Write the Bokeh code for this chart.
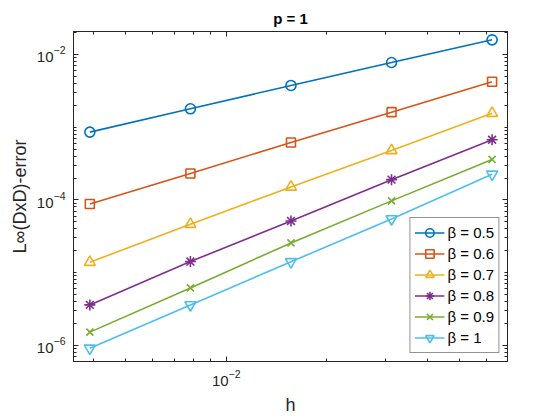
from bokeh.plotting import figure
from bokeh.models import LogAxis, FixedTicker, Legend, LegendItem, Range1d
from bokeh.embed import file_html
from bokeh.resources import INLINE

# ---- data ----
h = [1/256, 1/128, 1/64, 1/32, 1/16]
err_b05 = [8.55e-4, 1.79e-3, 3.75e-3, 7.76e-3, 1.59e-2]
err_b06 = [8.8e-5, 2.31e-4, 6.17e-4, 1.61e-3, 4.22e-3]
err_b07 = [1.39e-5, 4.64e-5, 1.51e-4, 4.79e-4, 1.56e-3]
err_b08 = [3.6e-6, 1.42e-5, 5.14e-5, 1.90e-4, 6.71e-4]
err_b09 = [1.52e-6, 6.17e-6, 2.56e-5, 9.7e-5, 3.6e-4]
err_b10 = [9.1e-7, 3.6e-6, 1.41e-5, 5.48e-5, 2.25e-4]
series = [err_b05, err_b06, err_b07, err_b08, err_b09, err_b10]
labels = ["β = 0.5", "β = 0.6", "β = 0.7", "β = 0.8", "β = 0.9", "β = 1"]

x_major = [1e-2]
x_minor = [0.004, 0.005, 0.006, 0.007, 0.008, 0.009, 0.02, 0.03, 0.04, 0.05, 0.06]
y_major = [1e-6, 1e-4, 1e-2]
y_minor = [k * 10.0 ** e for e in range(-7, -1) for k in range(1, 10)]

colors = ["#0072BD", "#D95319", "#EDB120", "#7E2F8E", "#77AC30", "#4DBEEE"]
markers = ["circle", "square", "triangle", "asterisk", "x", "inverted_triangle"]
msizes = [10, 9, 11, 11, 10, 11]

FONT = "Liberation Sans"
INK = "#262626"

p = figure(width=560, height=420, x_axis_type="log", y_axis_type="log",
           x_range=Range1d(0.00349, 0.0695), y_range=Range1d(6.0e-7, 0.0207),
           output_backend="svg", toolbar_location=None,
           min_border_left=73, min_border_right=53, min_border_top=31, min_border_bottom=59,
           title="p = 1")
p.title.align = "center"
p.title.text_font = FONT
p.title.text_font_size = "15px"
p.title.text_font_style = "bold"
p.title.text_color = "black"
p.xgrid.visible = False
p.ygrid.visible = False
p.outline_line_color = INK
p.background_fill_color = "white"
p.border_fill_color = "white"

bottom_ax = p.below[0]
left_ax = p.left[0]
top_ax = LogAxis()
right_ax = LogAxis()
p.add_layout(top_ax, "above")
p.add_layout(right_ax, "right")

for ax, (maj, mino) in [(bottom_ax, (x_major, x_minor)), (top_ax, (x_major, x_minor)),
                        (left_ax, (y_major, y_minor)), (right_ax, (y_major, y_minor))]:
    ax.ticker = FixedTicker(ticks=maj, minor_ticks=mino)
    ax.axis_line_color = INK
    ax.major_tick_line_color = INK
    ax.minor_tick_line_color = INK
    ax.major_tick_in = 5
    ax.major_tick_out = 0
    ax.minor_tick_in = 3
    ax.minor_tick_out = 0
    ax.major_label_text_font = FONT
    ax.major_label_text_font_size = "15px"
    ax.major_label_text_color = INK
    ax.major_label_standoff = 8

for ax in (top_ax, right_ax):
    ax.major_label_text_font_size = "1px"
    ax.major_label_text_color = None
    ax.major_label_standoff = 0

for ax, txt, st in [(bottom_ax, "h", 6), (left_ax, "L∞(DxD)-error", 4)]:
    ax.axis_label = txt
    ax.axis_label_text_font = FONT
    ax.axis_label_text_font_size = "18px"
    ax.axis_label_text_font_style = "normal"
    ax.axis_label_text_color = INK
    ax.axis_label_standoff = st

items = []
for ys, c, m, s, lab in zip(series, colors, markers, msizes, labels):
    lr = p.line(h, ys, line_color=c, line_width=1.6)
    sr = p.scatter(h, ys, marker=m, size=s, line_color=c, fill_alpha=0, line_width=1.6)
    items.append(LegendItem(label=lab, renderers=[lr, sr]))

legend = Legend(items=items, location="bottom_right")
legend.border_line_color = INK
legend.border_line_width = 1
legend.background_fill_color = "white"
legend.background_fill_alpha = 1
legend.label_text_font = FONT
legend.label_text_font_size = "15px"
legend.label_text_color = "black"
legend.glyph_width = 30
legend.glyph_height = 21
legend.label_height = 21
legend.spacing = 0
legend.padding = 4
legend.margin = 8
legend.label_standoff = 3
p.add_layout(legend)

open("out.html", "w").write(file_html(p, INLINE))
